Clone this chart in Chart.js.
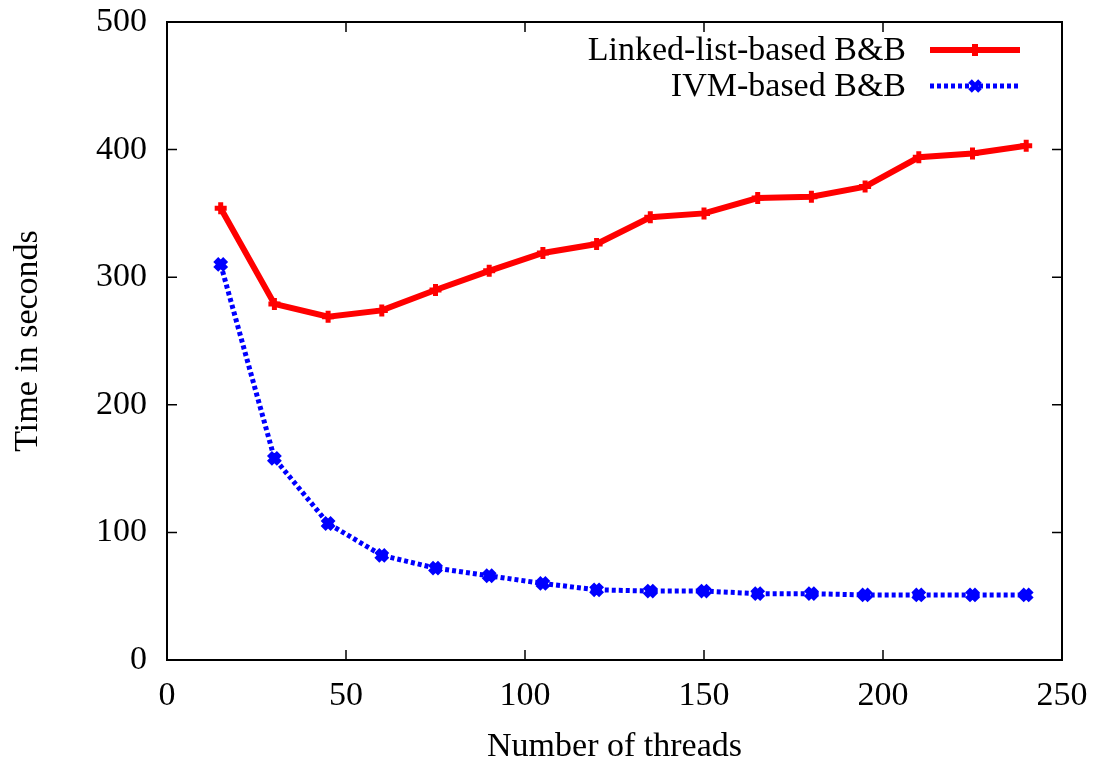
<!DOCTYPE html>
<html>
<head>
<meta charset="utf-8">
<script src="https://cdn.jsdelivr.net/npm/chart.js@4"></script>
<style>
  html, body { margin: 0; padding: 0; background: #fff; }
  #wrap { width: 1096px; height: 760px; }
</style>
</head>
<body>
<div id="wrap"><canvas id="LineChart" width="1096" height="760"></canvas></div>
<script>
// thread counts on the x axis
const threads = [15, 30, 45, 60, 75, 90, 105, 120, 135, 150, 165, 180, 195, 210, 225, 240];
// time in seconds
const linkedListTimes = [354, 279, 269, 274, 290, 305, 319, 326, 347, 350, 362, 363, 371, 394, 397, 403];
const ivmTimes = [310, 158, 107, 82, 72, 66, 60, 55, 54, 54, 52, 52, 51, 51, 51, 51];
const seriesNames = ['Linked-list-based B&B', 'IVM-based B&B'];
const xTicks = [0, 50, 100, 150, 200, 250];
const yTicks = [0, 100, 200, 300, 400, 500];

const FONT = '"Liberation Serif", "DejaVu Serif", serif';

// box around the plot with inward ticks on all four sides, plus gnuplot-style key
const framePlugin = {
  id: 'frame',
  afterDraw(chart) {
    const ctx = chart.ctx;
    const a = chart.chartArea;
    const xs = chart.scales.x, ys = chart.scales.y;
    ctx.save();
    ctx.strokeStyle = '#000';
    ctx.lineWidth = 2;
    ctx.strokeRect(a.left, a.top, a.right - a.left, a.bottom - a.top);
    ctx.lineWidth = 1.5;
    ctx.beginPath();
    xTicks.forEach(v => {
      const px = xs.getPixelForValue(v);
      ctx.moveTo(px, a.bottom); ctx.lineTo(px, a.bottom - 10);
      ctx.moveTo(px, a.top); ctx.lineTo(px, a.top + 10);
    });
    yTicks.forEach(v => {
      const py = ys.getPixelForValue(v);
      ctx.moveTo(a.left, py); ctx.lineTo(a.left + 10, py);
      ctx.moveTo(a.right, py); ctx.lineTo(a.right - 10, py);
    });
    ctx.stroke();

    // key
    ctx.font = '34px ' + FONT;
    ctx.textAlign = 'right';
    ctx.textBaseline = 'middle';
    chart.data.datasets.forEach((ds, i) => {
      const y = 50 + i * 36;
      ctx.fillStyle = '#000';
      ctx.fillText(ds.label, 906, y + 1);
      ctx.strokeStyle = ds.borderColor;
      ctx.fillStyle = ds.borderColor;
      ctx.lineWidth = ds.borderWidth;
      ctx.setLineDash(ds.borderDash || []);
      ctx.beginPath();
      ctx.moveTo(930, y); ctx.lineTo(1020, y);
      ctx.stroke();
      ctx.setLineDash([]);
      Chart.helpers.drawPoint(ctx, {
        pointStyle: ds.pointStyle,
        radius: ds.pointRadius,
        borderWidth: ds.pointBorderWidth,
        rotation: 0
      }, 975, y);
    });
    ctx.restore();
  }
};

const data = {
  datasets: [
    {
      label: seriesNames[0],
      data: threads.map((t, i) => ({ x: t, y: linkedListTimes[i] })),
      borderColor: '#ff0000',
      backgroundColor: '#ff0000',
      borderWidth: 6,
      pointStyle: 'cross',
      pointRadius: 6,
      pointBorderWidth: 5,
      tension: 0
    },
    {
      label: seriesNames[1],
      data: threads.map((t, i) => ({ x: t, y: ivmTimes[i] })),
      borderColor: '#0000ff',
      backgroundColor: '#0000ff',
      borderWidth: 5,
      borderDash: [4, 3],
      pointStyle: 'crossRot',
      pointRadius: 7,
      pointBorderWidth: 7,
      tension: 0
    }
  ]
};

const config = {
  type: 'line',
  data: data,
  options: {
    responsive: false,
    animation: false,
    layout: { padding: { top: 22, right: 34, left: 0, bottom: 0 } },
    plugins: {
      legend: { display: false },
      tooltip: { enabled: false }
    },
    scales: {
      x: {
        type: 'linear',
        min: 0, max: 250,
        afterBuildTicks: s => { s.ticks = xTicks.map(v => ({ value: v })); },
        afterFit: s => { s.height = 100; s.paddingLeft = 0; s.paddingRight = 0; },
        grid: { display: false, drawTicks: false },
        border: { display: false },
        ticks: { color: '#000', font: { family: FONT, size: 34 }, padding: 16, maxRotation: 0 },
        title: {
          display: true,
          text: 'Number of threads',
          color: '#000',
          font: { family: FONT, size: 34 },
          padding: { top: 4, bottom: -7 }
        }
      },
      y: {
        min: 0, max: 500,
        afterBuildTicks: s => { s.ticks = yTicks.map(v => ({ value: v })); },
        afterFit: s => { s.width = 167; s.paddingTop = 0; s.paddingBottom = 0; },
        grid: { display: false, drawTicks: false },
        border: { display: false },
        ticks: { color: '#000', font: { family: FONT, size: 34 }, padding: 20 },
        title: {
          display: true,
          text: 'Time in seconds',
          color: '#000',
          font: { family: FONT, size: 34 },
          padding: { top: 8, bottom: 0 }
        }
      }
    }
  },
  plugins: [framePlugin]
};

const lineCtx = document.getElementById('LineChart').getContext('2d');
new Chart(lineCtx, config);
</script>
</body>
</html>
